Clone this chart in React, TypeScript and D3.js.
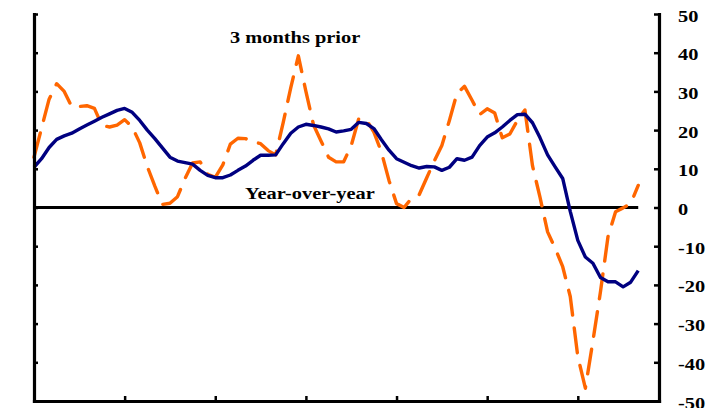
import React, { useEffect, useRef } from "react";
import * as d3 from "d3";

// Year-over-year % change (solid navy)
const yoy: number[] = [
  10.4, 12.6, 15.5, 17.6, 18.5, 19.2, 20.3, 21.3, 22.3, 23.3,
  24.2, 25.1, 25.6, 24.6, 22.5, 20.0, 17.8, 15.4, 13.0, 12.0,
  11.6, 11.2, 9.6, 8.3, 7.7, 7.7, 8.4, 9.6, 10.7, 12.2,
  13.5, 13.5, 13.6, 16.5, 19.2, 20.8, 21.5, 21.2, 20.8, 20.3,
  19.5, 19.8, 20.2, 22.0, 21.7, 20.4, 17.5, 14.8, 12.6, 11.7,
  10.8, 10.2, 10.6, 10.5, 9.6, 10.4, 12.6, 12.2, 13.0, 16.0,
  18.2, 19.3, 20.8, 22.5, 24.0, 24.1, 21.9, 18.0, 13.6, 10.5,
  7.5, -1.0, -8.5, -12.8, -14.4, -18.1, -19.2, -19.2, -20.5, -19.3,
  -16.3,
];

// Change vs 3 months prior, annualized (dashed orange)
const prior3: number[] = [
  13, 20.5, 28, 32, 30, 26, 26.1, 26.3, 25.6, 21.2,
  20.8, 21.3, 22.7, 20.8, 16.7, 10.6, 5.5, 0.8, 1.1, 2.8,
  7.5, 11.5, 11.8, 8.6, 7.8, 11, 16.4, 17.9, 17.8, 17,
  16.5, 14.7, 13.6, 22, 31, 39.2, 30, 21.4, 17.2, 13,
  11.8, 11.8, 16, 23, 22.7, 19.5, 14.3, 7, 1, 0,
  2.4, 3.3, 7.7, 12, 16, 22.5, 29.5, 31.3, 27.7, 24,
  25.5, 24.4, 18, 19, 22.5, 25.2, 10.8, 2.6, -6.3, -10.5,
  -15.3, -23, -38.5, -46.7, -34.5, -21.8, -7.5, -1.1, -0.1, 1,
  5.7,
];

const yTicks: number[] = [50, 40, 30, 20, 10, 0, -10, -20, -30, -40, -50];
const xTicks: number[] = [12, 24, 36, 48, 60, 72];
const labelPrior = "3 months prior";
const labelYoy = "Year-over-year";

const W = 717;
const H = 408;
const FONT = "'Liberation Serif', 'Times New Roman', serif";

export default function App() {
  const axRef = useRef<SVGGElement>(null);

  const x = d3.scaleLinear().domain([0, 82.75]).range([34, 659]);
  const y = d3.scaleLinear().domain([-50, 50]).range([401, 14]);

  const line = d3
    .line<number>()
    .x((_, i) => x(i))
    .y((d) => y(d));

  const last = yoy.length - 1;

  useEffect(() => {
    if (!axRef.current) return;
    const g = d3.select(axRef.current);
    g.selectAll("*").remove();

    const left = g
      .append("g")
      .attr("transform", `translate(${x(0)},0)`)
      .call(d3.axisRight(y).tickValues(yTicks).tickSize(4).tickSizeOuter(0).tickFormat(() => ""));
    const right = g
      .append("g")
      .attr("transform", `translate(${x(82.75)},0)`)
      .call(d3.axisLeft(y).tickValues(yTicks).tickSize(5).tickSizeOuter(0).tickFormat(() => ""));
    const bottom = g
      .append("g")
      .attr("transform", `translate(0,${y(-50)})`)
      .call(d3.axisTop(x).tickValues(xTicks).tickSize(5).tickSizeOuter(0).tickFormat(() => ""));

    [left, right, bottom].forEach((a) => {
      a.select(".domain").attr("stroke", "#000").attr("stroke-width", 3.2).attr("stroke-linecap", "square");
      a.selectAll(".tick line").attr("stroke", "#000").attr("stroke-width", 2.5);
    });
  }, []);

  return (
    <svg
      width={W}
      height={H}
      style={{ position: "absolute", left: 0, top: 0, background: "#fff" }}
    >
      <rect x={0} y={0} width={W} height={H} fill="#fff" />
      {/* zero line */}
      <line
        x1={x(0)}
        x2={x(last)}
        y1={y(0)}
        y2={y(0)}
        stroke="#000"
        strokeWidth={3}
      />
      <path
        d={line(prior3) || ""}
        fill="none"
        stroke="#FF6600"
        strokeWidth={3.4}
        strokeDasharray="25 13"
        strokeLinecap="round"
        strokeLinejoin="round"
      />
      <path
        d={line(yoy) || ""}
        fill="none"
        stroke="#000080"
        strokeWidth={3.4}
        strokeLinejoin="round"
      />
      <g ref={axRef} />
      {yTicks.map((t) => (
        <text
          key={t}
          transform={`translate(678,${y(t) + 7.5}) scale(1.2,1)`}
          fontFamily={FONT}
          fontWeight="bold"
          fontSize={17}
          fill="#000"
        >
          {String(t)}
        </text>
      ))}
      <text
        transform={`translate(230,42.5) scale(1.2,1)`}
        fontFamily={FONT}
        fontWeight="bold"
        fontSize={17}
        fill="#000"
      >
        {labelPrior}
      </text>
      <text
        transform={`translate(245,198.5) scale(1.2,1)`}
        fontFamily={FONT}
        fontWeight="bold"
        fontSize={17}
        fill="#000"
      >
        {labelYoy}
      </text>
    </svg>
  );
}
